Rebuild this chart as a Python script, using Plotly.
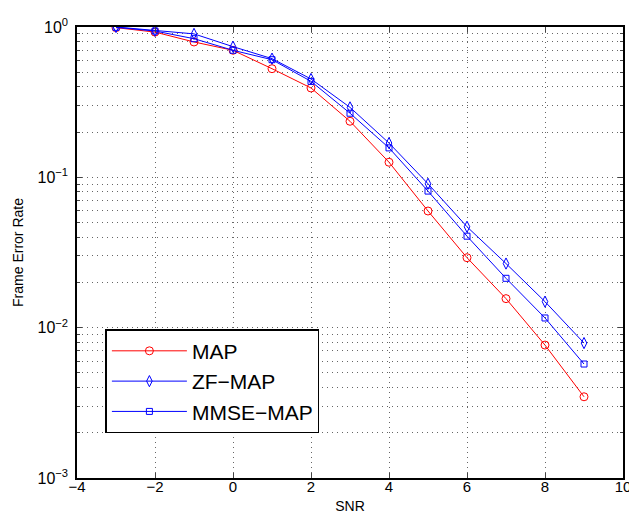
import plotly.graph_objects as go

snr = [-3, -2, -1, 0, 1, 2, 3, 4, 5, 6, 7, 8, 9]
fer_map = [0.99, 0.925, 0.795, 0.70, 0.528, 0.393, 0.236, 0.126, 0.0597, 0.0292, 0.0156, 0.00766, 0.00347]
fer_zf = [1.0, 0.945, 0.90, 0.74, 0.616, 0.451, 0.292, 0.169, 0.0906, 0.0469, 0.0267, 0.0149, 0.0079]
fer_mmse = [0.995, 0.94, 0.836, 0.70, 0.606, 0.435, 0.267, 0.157, 0.081, 0.0406, 0.0213, 0.0116, 0.00573]

series_names = ["MAP", "ZF\u2212MAP", "MMSE\u2212MAP"]
y_ticks = [0.001, 0.01, 0.1, 1]
y_ticktext = ["10<sup>\u22123</sup>", "10<sup>\u22122</sup>", "10<sup>\u22121</sup>", "10<sup>0</sup>"]
y_minor = [m * d for d in [0.001, 0.01, 0.1] for m in range(2, 10)]

FONT = "Liberation Sans, Arial, Helvetica, sans-serif"
RED = "#ff0000"
BLUE = "#0000ff"
GRIDC = "#666666"
DOT = "1px,4px"

fig = go.Figure()
fig.add_trace(go.Scatter(x=snr, y=fer_map, name=series_names[0], mode="lines+markers",
                         line=dict(color=RED, width=1),
                         marker=dict(symbol="circle-open", size=8, color=RED, line=dict(width=1, color=RED))))
fig.add_trace(go.Scatter(x=snr, y=fer_zf, name=series_names[1], mode="lines+markers",
                         line=dict(color=BLUE, width=1),
                         marker=dict(symbol="diamond-tall-open", size=8, color=BLUE, line=dict(width=1, color=BLUE))))
fig.add_trace(go.Scatter(x=snr, y=fer_mmse, name=series_names[2], mode="lines+markers",
                         line=dict(color=BLUE, width=1),
                         marker=dict(symbol="square-open", size=6, color=BLUE, line=dict(width=1, color=BLUE))))

grid = dict(showgrid=True, gridcolor=GRIDC, griddash=DOT, gridwidth=1)

fig.update_layout(
    width=637, height=513,
    margin=dict(l=69, r=22, t=19, b=43, autoexpand=False),
    paper_bgcolor="white", plot_bgcolor="white",
    font=dict(family=FONT, size=14, color="black"),
    showlegend=True,
    legend=dict(x=0.052, y=0.33, xanchor="left", yanchor="top",
                bgcolor="white", bordercolor="black", borderwidth=1.5,
                font=dict(family=FONT, size=21, color="black"),
                itemwidth=75, tracegroupgap=0),
    xaxis=dict(range=[-4, 10], dtick=2, tick0=0, ticks="inside", ticklen=5,
               showline=True, linecolor="black", linewidth=1.5, mirror="ticks",
               zeroline=False, title=dict(text="SNR", font=dict(size=14), standoff=7),
               tickfont=dict(size=15), ticklabelstandoff=-6, **grid),
    yaxis=dict(type="log", range=[-3, 0], tickmode="array", tickvals=y_ticks, ticktext=y_ticktext,
               ticks="inside", ticklen=5,
               showline=True, linecolor="black", linewidth=1.5, mirror="ticks",
               zeroline=False, title=dict(text="Frame Error Rate", font=dict(size=14), standoff=11),
               tickfont=dict(size=16), ticklabelstandoff=4,
               minor=dict(tickmode="array", tickvals=y_minor, ticks="inside", ticklen=3,
                          showgrid=True, gridcolor=GRIDC, griddash=DOT, gridwidth=1),
               **grid),
)

fig.write_html("out.html")
